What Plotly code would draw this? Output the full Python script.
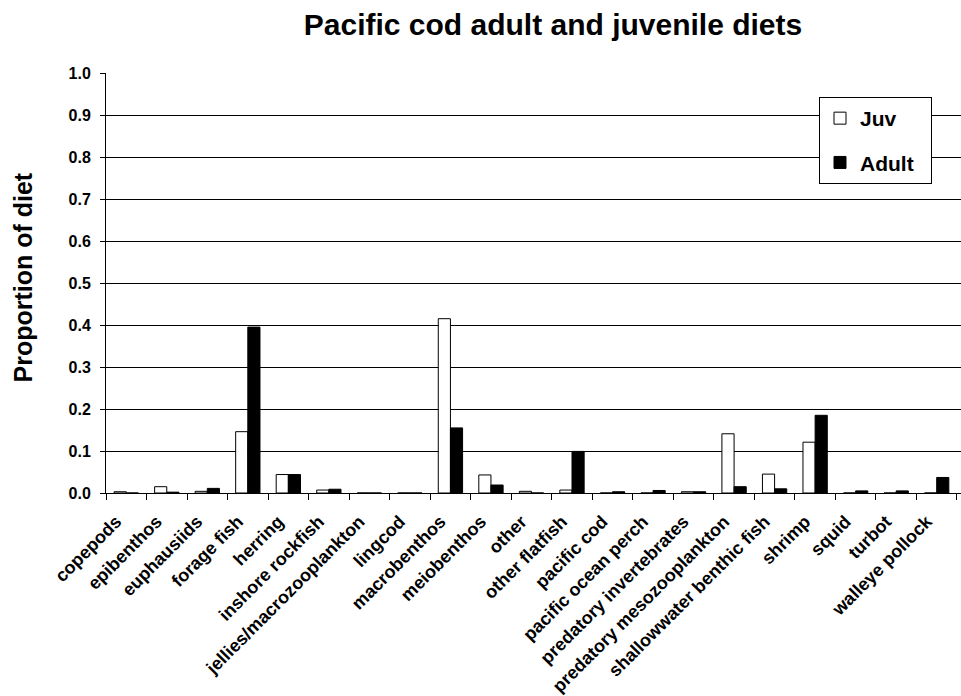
import plotly.graph_objects as go

# Prey groups in the Pacific cod diet
categories = [
    "copepods", "epibenthos", "euphausiids", "forage fish", "herring",
    "inshore rockfish", "jellies/macrozooplankton", "lingcod", "macrobenthos",
    "meiobenthos", "other", "other flatfish", "pacific cod",
    "pacific ocean perch", "predatory invertebrates",
    "predatory mesozooplankton", "shallowwater benthic fish", "shrimp",
    "squid", "turbot", "walleye pollock",
]

# Proportion of diet by prey group
juv = [0.003, 0.015, 0.004, 0.146, 0.044, 0.007, 0.0, 0.0, 0.415, 0.043,
       0.004, 0.007, 0.0, 0.0, 0.003, 0.141, 0.045, 0.121, 0.0, 0.0, 0.0]
adult = [0.0, 0.002, 0.011, 0.395, 0.044, 0.009, 0.0, 0.0, 0.155, 0.019,
         0.0, 0.099, 0.003, 0.006, 0.003, 0.015, 0.010, 0.185, 0.005, 0.005,
         0.037]

y_ticks = [0.0, 0.1, 0.2, 0.3, 0.4, 0.5, 0.6, 0.7, 0.8, 0.9, 1.0]

FONT = "Liberation Sans, Arial, sans-serif"
W, H = 961, 696
M_L, M_T, M_B = 106, 73, 203
PLOT_W, PLOT_H = W - M_L, H - M_T - M_B
NBSP = "\u00a0"  # keeps some right padding inside the legend box

fig = go.Figure()
fig.add_trace(go.Bar(
    x=categories, y=juv, name="Juv", legendgroup="juv",
    marker=dict(color="white", line=dict(color="black", width=1)),
))
fig.add_trace(go.Bar(
    x=categories, y=adult, name="Adult" + NBSP * 2, legendgroup="adult",
    marker=dict(color="black", line=dict(color="black", width=1)),
))

fig.update_layout(
    template="none",
    width=W, height=H,
    margin=dict(l=M_L, r=0, t=M_T, b=M_B, autoexpand=False),
    paper_bgcolor="white", plot_bgcolor="white",
    barmode="group", bargap=0.40, bargroupgap=0.0,
    font=dict(family=FONT, color="black", size=16, weight="bold"),
    title=dict(
        text="Pacific cod adult and juvenile diets",
        font=dict(family=FONT, size=30, color="black", weight="bold"),
        x=553 / W, xref="container", xanchor="center",
        y=1 - 24 / H, yref="container", yanchor="middle",
    ),
    legend=dict(
        x=(819 - M_L) / PLOT_W, y=1 - 24 / PLOT_H,
        xanchor="left", yanchor="top",
        bgcolor="white", bordercolor="black", borderwidth=1,
        font=dict(family=FONT, size=21, color="black", weight="bold"),
        tracegroupgap=14, itemwidth=30,
    ),
    showlegend=True,
    annotations=[dict(
        text="Proportion of diet", textangle=-90, showarrow=False,
        xref="paper", yref="paper",
        x=(22 - M_L) / PLOT_W, y=(M_T + PLOT_H - 277.5) / PLOT_H,
        xanchor="center", yanchor="middle",
        font=dict(family=FONT, size=25, color="black", weight="bold"),
    )],
)

fig.update_xaxes(
    type="category", range=[-0.5, 20.6], automargin=False,
    tickangle=-45, tickson="boundaries",
    ticks="outside", ticklen=6, tickcolor="black", tickwidth=1,
    ticklabelstandoff=10, ticklabelshift=-10,
    showline=True, linecolor="black", linewidth=1,
    showgrid=False, zeroline=False,
    tickfont=dict(family=FONT, size=18, color="black", weight="bold"),
)
fig.update_yaxes(
    range=[0, 1.0], tickvals=y_ticks, automargin=False,
    ticktext=[f"{v:.1f}" for v in y_ticks],
    ticks="outside", ticklen=5, tickcolor="black", tickwidth=1,
    ticklabelstandoff=6,
    showline=True, linecolor="black", linewidth=1,
    showgrid=True, gridcolor="black", gridwidth=1,
    zeroline=False,
    tickfont=dict(family=FONT, size=16, color="black", weight="bold"),
)

fig.write_html("out.html")
